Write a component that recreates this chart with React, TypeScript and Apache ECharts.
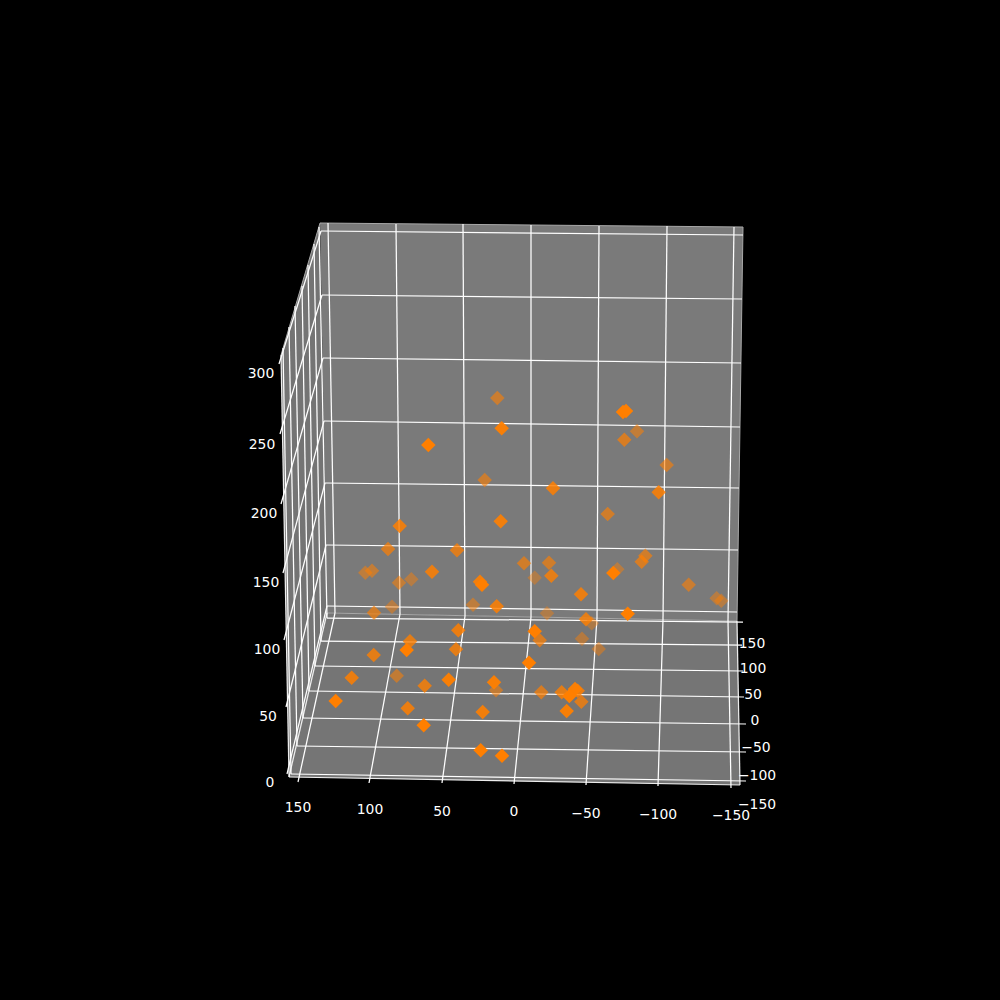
import React, { useEffect, useRef } from "react";
import * as echarts from "echarts";

// Projected positions of the 3D scatter points (page units), with depth shade
const pointU = [497.3,501.7,428.3,623,626,637,624.3,666.7,484.7,500.7,399.7,388,457,365.3,372,432,399,411.3,480,482,473,496.7,374,392,458.3,410,406.7,456,553,658.7,607.7,524,549,551.3,534.7,645.3,641.7,617.3,613.3,688.7,716.7,721.3,581,547,627.7,586,591.7,534.7,539.7,582,598.7,373.7,351.7,396.7,424.7,448.7,494,496,335.7,407.7,423.7,482.7,480.7,502,529,541.3,561.7,575,569.3,577.7,581.3,566.7];
const pointV = [398,428.3,445,412,411,431.3,439.7,465,480,521.3,526,549,550.3,572.7,570.7,571.7,582.7,579.3,581.7,584.7,604.7,606.3,612.7,606.7,630.3,641.3,650,649.3,488.3,492.3,514,563.3,562.7,575.7,577.7,555.7,561.7,569.3,573,584.7,598.3,600.7,594.3,613.3,613.7,619.3,623.3,631.3,640.3,638.7,649,655,677.7,675.7,685.7,679.7,682.3,690.3,701,708.3,725.3,712,750.3,755.7,662.7,692.3,692.3,689,696,690.7,701.7,711];
const pointShade = [0.6,0.95,1,1,1,0.55,0.7,0.6,0.6,0.9,0.85,0.7,0.75,0.5,0.55,0.85,0.55,0.45,0.9,1,0.5,0.85,0.65,0.45,0.85,0.8,1,0.8,0.85,0.85,0.65,0.65,0.65,0.8,0.4,0.65,0.7,0.45,1,0.6,0.45,0.45,0.85,0.4,1,0.8,0.4,1,0.7,0.45,0.45,0.8,0.85,0.55,0.8,0.95,0.95,0.55,1,0.85,1,0.9,1,1,1,0.7,0.8,0.95,1,0.85,0.75,0.95];

// Panes as projected corner lists
const backWall = [[320,223],[743,227],[737,621],[327,613]];
const leftWall = [[320,223],[327,613],[289,777],[281,355]];
const floorPane = [[327,613],[737,621],[740,785],[289,777]];

// Gridlines: [x1, y1, x2, y2]
const backHorizontal = [[321,231,743,235],[322,295,742,299],[323,358,741,363],[324,421,740,427],[325,483,739,488],[326,545,738,550],[327,606,737,612]];
const backVertical = [[328,223,335,613],[396,224,400,614],[463,224,465,616],[531,225,531,617],[599,226,597,618],[667,226,663,620],[734,227,728,621]];
const floorAcross = [[327,618,743,622],[321,641,742,645],[315,666,743,671],[309,691,744,697],[303,718,746,724],[297,746,746,752],[291,774,746,781]];
const floorAlong = [[335,613,298,782],[400,614,369,783],[465,616,442,783],[531,617,514,784],[597,618,586,785],[663,620,658,786],[728,621,731,788]];
const leftVertical = [[327,618,319,227],[321,641,314,244],[315,666,308,265],[309,691,302,286],[303,718,295,306],[297,746,289,327],[291,774,283,348]];
const leftSlant = [[321,231,279,364],[322,295,280,434],[323,358,281,504],[324,421,283,573],[325,483,284,640],[326,545,286,707],[327,606,287,774]];
const paneEdges = [[320,223,743,227],[320,223,281,355],[743,227,737,621],[327,613,737,621]];
const axisEdges = [[281,355,289,777],[289,777,740,785],[737,621,740,785],[327,613,289,777]];

// Tick labels: text with projected anchor
const xTickText = ["150","100","50","0","\u221250","\u2212100","\u2212150"];
const xTickU = [298,370,442,514,586,658,731];
const xTickV = [807,809,811,811,813,814,815];
const yTickText = ["150","100","50","0","\u221250","\u2212100","\u2212150"];
const yTickU = [752,753,753,755,756,757,757];
const yTickV = [643,668,694,720,747,775,804];
const zTickText = ["300","250","200","150","100","50","0"];
const zTickU = [261,262,264,266,267,268,270];
const zTickV = [373,444,513,582,649,716,782];

const GRID = "#ffffff";

function lineSeries(id: string, lines: number[][], z: number, color: string, width: number, opacity: number) {
  return {
    type: "custom",
    id,
    coordinateSystem: "cartesian2d",
    silent: true,
    clip: false,
    z,
    data: lines,
    encode: { x: [0, 2], y: [1, 3] },
    renderItem: (_p: any, api: any) => {
      const a = api.coord([api.value(0), api.value(1)]);
      const b = api.coord([api.value(2), api.value(3)]);
      return {
        type: "line",
        shape: { x1: a[0], y1: a[1], x2: b[0], y2: b[1] },
        style: { stroke: color, lineWidth: width, opacity, fill: "none" },
      };
    },
  };
}

function paneSeries(id: string, corners: number[][], color: string) {
  return {
    type: "custom",
    id,
    coordinateSystem: "cartesian2d",
    silent: true,
    clip: false,
    z: 1,
    data: corners,
    renderItem: (p: any, api: any) => {
      if (p.dataIndex !== 0) return null;
      return {
        type: "polygon",
        shape: { points: corners.map((c) => api.coord(c)) },
        style: { fill: color, stroke: "none" },
      };
    },
  };
}

function labelSeries(id: string, texts: string[], us: number[], vs: number[]) {
  return {
    type: "custom",
    id,
    coordinateSystem: "cartesian2d",
    silent: true,
    clip: false,
    z: 6,
    data: texts.map((_t, i) => [us[i], vs[i]]),
    renderItem: (p: any, api: any) => {
      const c = api.coord([api.value(0), api.value(1)]);
      return {
        type: "text",
        x: c[0],
        y: c[1],
        style: {
          text: texts[p.dataIndex],
          fill: "#ffffff",
          font: '13.9px "DejaVu Sans"',
          align: "center",
          verticalAlign: "middle",
        },
      };
    },
  };
}

export default function App() {
  const ref = useRef<HTMLDivElement>(null);
  useEffect(() => {
    document.body.style.margin = "0";
    document.body.style.background = "#000";
    const chart = echarts.init(ref.current!, undefined, { renderer: "svg" });
    const order = pointU.map((_u, i) => i).sort((a, b) => pointShade[a] - pointShade[b]);
    chart.setOption({
      animation: false,
      backgroundColor: "#000000",
      grid: { left: 0, top: 0, width: 1000, height: 1000 },
      xAxis: { type: "value", min: 0, max: 1000, show: false },
      yAxis: { type: "value", min: 0, max: 1000, inverse: true, show: false },
      series: [
        paneSeries("back", backWall, "#7a7a7a"),
        paneSeries("left", leftWall, "#747474"),
        paneSeries("floor", floorPane, "#757575"),
        lineSeries("edges", paneEdges, 2, "#a8a8a8", 1, 1),
        lineSeries("backH", backHorizontal, 3, GRID, 1.25, 1),
        lineSeries("backV", backVertical, 3, GRID, 1.25, 1),
        lineSeries("floorA", floorAcross, 3, GRID, 1.25, 1),
        lineSeries("floorL", floorAlong, 3, GRID, 1.25, 1),
        lineSeries("leftV", leftVertical, 3, GRID, 1.25, 1),
        lineSeries("leftS", leftSlant, 3, GRID, 1.25, 1),
        lineSeries("axes", axisEdges, 3, GRID, 1.25, 0.9),
        {
          type: "scatter",
          id: "points",
          symbol: "diamond",
          symbolSize: 14.5,
          z: 5,
          silent: true,
          data: order.map((i) => ({
            value: [pointU[i], pointV[i]],
            itemStyle: { color: "#ff7f00", opacity: pointShade[i] },
          })),
        },
        labelSeries("xTicks", xTickText, xTickU, xTickV),
        labelSeries("yTicks", yTickText, yTickU, yTickV),
        labelSeries("zTicks", zTickText, zTickU, zTickV),
      ],
    });
    return () => chart.dispose();
  }, []);
  return (
    <div
      ref={ref}
      style={{ position: "absolute", left: 0, top: 0, width: 1000, height: 1000, background: "#000" }}
    />
  );
}
